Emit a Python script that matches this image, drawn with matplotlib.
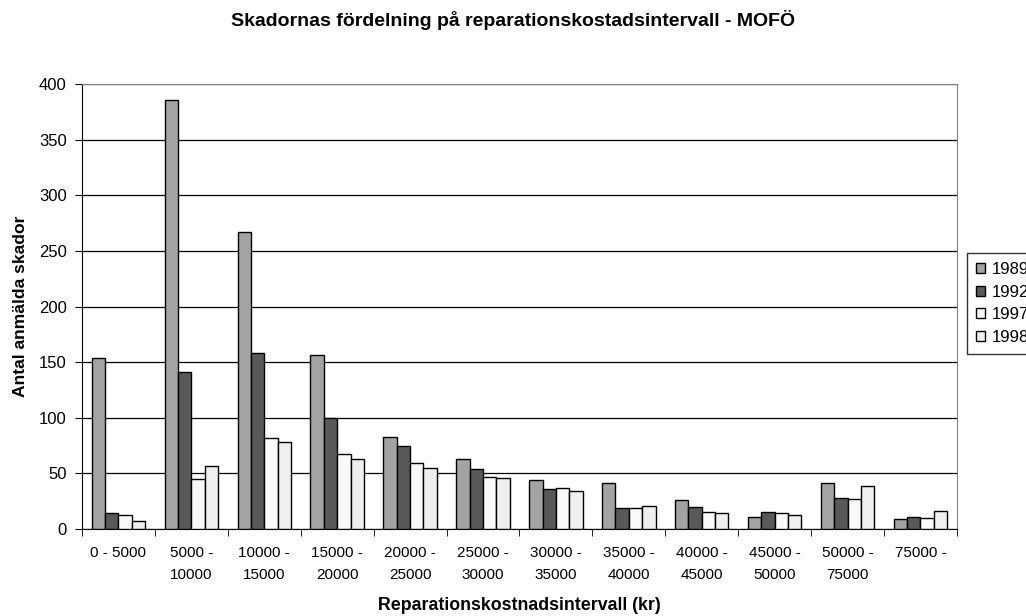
#! /usr/bin/env python3

import numpy as np
import matplotlib.pyplot as plt

plt.rcParams['font.family'] = ['Liberation Sans', 'DejaVu Sans']

intervals = ['0 - 5000', '5000 -\n10000', '10000 -\n15000', '15000 -\n20000',
             '20000 -\n25000', '25000 -\n30000', '30000 -\n35000', '35000 -\n40000',
             '40000 -\n45000', '45000 -\n50000', '50000 -\n75000', '75000 -']
years = ['1989', '1992', '1997', '1998']
s1989 = [154, 386, 267, 156, 83, 63, 44, 41, 26, 11, 41, 9]
s1992 = [14, 141, 158, 100, 75, 54, 36, 19, 20, 15, 28, 11]
s1997 = [13, 45, 82, 67, 59, 47, 37, 19, 15, 14, 27, 10]
s1998 = [7, 57, 78, 63, 55, 46, 34, 21, 14, 13, 39, 16]
colors = ['#a3a3a3', '#595959', '#f9f9f9', '#efefef']


def plotBars(series, labels, title):
    fig = plt.figure(figsize=(10.26, 6.16), dpi=100)
    ax = fig.add_axes([0.0799, 0.1412, 0.8528, 0.7224])
    x = np.arange(len(labels))
    w = 0.183
    for k, vals in enumerate(series):
        ax.bar(x + (k - 1.5) * w, vals, w, color=colors[k], edgecolor='black',
               linewidth=1.0, label=years[k], zorder=3)
    ax.set_xlim(-0.5, len(labels) - 0.5)
    ax.set_ylim(0, 400)
    ax.set_yticks(np.arange(0, 401, 50))
    ax.yaxis.grid(True, color='black', linewidth=0.9, zorder=0)
    ax.set_xticks(x)
    ax.set_xticklabels(labels, fontsize=11, linespacing=1.65)
    ax.set_xticks(np.arange(-0.5, len(labels)), minor=True)
    ax.tick_params(axis='x', which='major', length=0, pad=12.5)
    ax.tick_params(axis='x', which='minor', length=5, direction='out', color='black')
    ax.tick_params(axis='y', length=5, direction='out', labelsize=12, pad=6)
    for side in ['top', 'right']:
        ax.spines[side].set_color('#808080')
    ax.spines['left'].set_color('black')
    ax.spines['bottom'].set_color('black')
    ax.set_ylabel('Antal anmälda skador', fontsize=12.6, fontweight='bold', labelpad=8)
    ax.set_xlabel('Reparationskostnadsintervall (kr)', fontsize=12.8, fontweight='bold', labelpad=11)
    fig.text(0.5, 1 - 20 / 616, title, ha='center', va='center', fontsize=14, fontweight='bold')
    leg = fig.legend(loc='upper left', bbox_to_anchor=(967 / 1026, 1 - 253 / 616),
                     fontsize=12, frameon=True, fancybox=False, edgecolor='black',
                     handlelength=0.55, handleheight=0.55, handletextpad=0.4,
                     borderpad=0.55, labelspacing=0.45, borderaxespad=0)
    leg.get_frame().set_linewidth(1.0)
    fig.savefig('out.png', dpi=100)


if __name__ == '__main__':
    plotBars([s1989, s1992, s1997, s1998], intervals,
             'Skadornas fördelning på reparationskostadsintervall - MOFÖ')
